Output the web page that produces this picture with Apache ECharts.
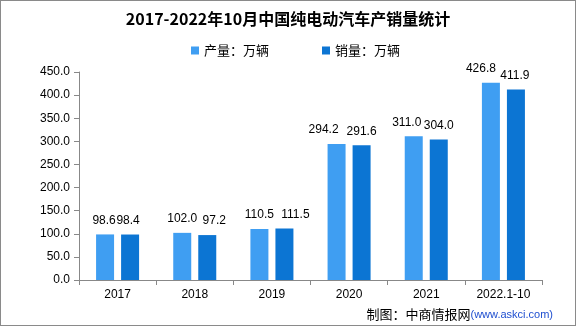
<!DOCTYPE html>
<html><head><meta charset="utf-8">
<script src="https://cdn.jsdelivr.net/npm/echarts@6/dist/echarts.min.js"></script>
<style>html,body{margin:0;padding:0;background:#fff}#c{width:576px;height:326px;box-sizing:border-box;border:1px solid #8a8a8a}</style>
</head><body><div id="c"></div>
<script>
const categories = ['2017','2018','2019','2020','2021','2022.1-10'];
const production = [98.6, 102.0, 110.5, 294.2, 311.0, 426.8];
const sales = [98.4, 97.2, 111.5, 291.6, 304.0, 411.9];
const seriesNames = ['产量：万辆','销量：万辆'];
const titleText = '2017-2022年10月中国纯电动汽车产销量统计';

// horizontal label nudges (px) to mimic the original label layout
const productionLabelShift = [-1, 0, 0, -13, -7, -10];
const salesLabelShift = [-2, 7, 11, 0, 0, -1];

const chart = echarts.init(document.getElementById('c'));
const labelStyle = {show:true, position:'top', distance:8, color:'#000', fontSize:12, fontFamily:'Liberation Sans', formatter: p => p.value.toFixed(1)};
chart.setOption({
  animation:false,
  title:{text:titleText, left:'center', top:5, textStyle:{fontSize:16, fontWeight:'bold', color:'#000', fontFamily:'Noto Sans CJK SC'}},
  legend:{top:38, left:185, itemWidth:8, itemHeight:8, itemGap:53, icon:'rect', textStyle:{fontSize:13, color:'#000', fontFamily:'Noto Sans CJK SC'}},
  grid:{left:78, right:33, top:71, bottom:45, containLabel:false},
  xAxis:{type:'category', data:categories,
    axisLine:{lineStyle:{color:'#888'}}, axisTick:{show:true, lineStyle:{color:'#888'}, length:5},
    axisLabel:{interval:0, color:'#000', fontSize:12, fontFamily:'Liberation Sans', margin:9}},
  yAxis:{type:'value', min:0, max:450, interval:50,
    axisLine:{show:true, lineStyle:{color:'#888'}}, axisTick:{show:true, lineStyle:{color:'#888'}, length:5},
    splitLine:{show:false},
    axisLabel:{color:'#000', fontSize:12, fontFamily:'Liberation Sans', margin:9, formatter: v => v.toFixed(1)}},
  series:[
    {name:seriesNames[0], type:'bar', data:production, barWidth:18, barGap:'39%', itemStyle:{color:'#3f9ef2'}, label:labelStyle,
      labelLayout: p => ({dx: productionLabelShift[p.dataIndex], hideOverlap:false})},
    {name:seriesNames[1], type:'bar', data:sales, barWidth:18, itemStyle:{color:'#0c75d3'}, label:labelStyle,
      labelLayout: p => ({dx: salesLabelShift[p.dataIndex], hideOverlap:false})}
  ],
  graphic:[
    {type:'text', right:22, bottom:4, style:{rich:{a:{fontSize:13, fill:'#000', fontFamily:'Noto Sans CJK SC'}, b:{fontSize:11, fill:'#1f4fd0', fontFamily:'Liberation Sans'}}, text:'{a|制图：中商情报网}{b|(www.askci.com)}'}}
  ]
});
</script></body></html>
